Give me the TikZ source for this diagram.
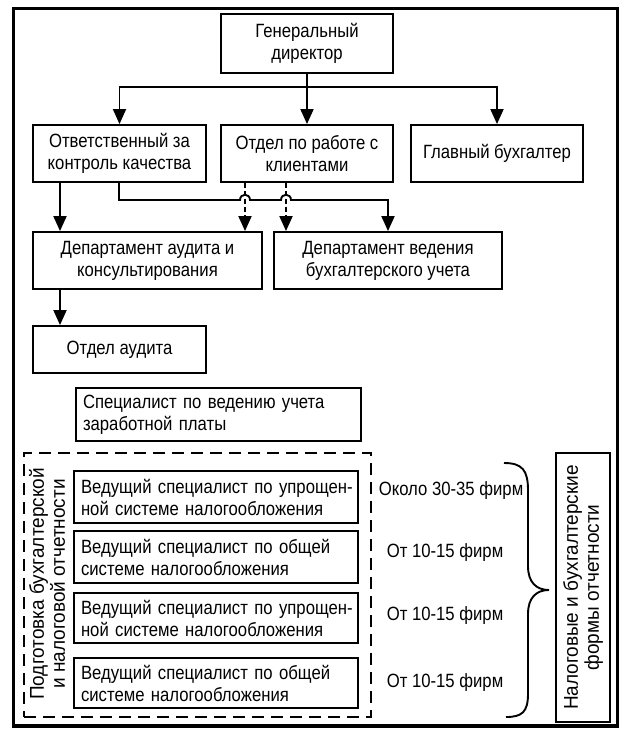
\documentclass[tikz,border=0pt]{standalone}
\usepackage{fontspec}
\setmainfont{Liberation Sans}[FakeStretch=0.87]
\newfontfamily\rotfamily{Liberation Sans}[FakeStretch=0.95]
\usetikzlibrary{arrows.meta}
\newcommand\bxfont{\fontsize{19.2}{22}\selectfont}
\newcommand\rtfont{\rotfamily\fontsize{20}{21}\selectfont}
\begin{document}
\begin{tikzpicture}[x=1pt,y=-1pt,
  box/.style={draw, line width=1.9pt, align=center, inner sep=0pt, font=\bxfont},
  lbox/.style={draw, line width=1.9pt, align=left, inner xsep=7pt, inner ysep=0pt, font=\bxfont},
  ln/.style={line width=1.9pt},
  arr/.style={line width=1.9pt, -{Triangle[width=13pt,length=15pt]}},
  darr/.style={line width=1.9pt, dash pattern=on 5pt off 3pt, -{Triangle[width=13pt,length=15pt]}},
  lbl/.style={font=\bxfont, inner sep=0pt},
  rot/.style={font=\rtfont, align=center, rotate=90, inner sep=0pt}]
\useasboundingbox (0,0) rectangle (622,729);
\fill[white] (0,0) rectangle (622,729);
\draw[line width=3.5pt] (13.5,8.5) rectangle (617.5,726);

% boxes
\node[box, minimum width=172, minimum height=59] (gd) at (307,43.5) {Генеральный\\директор};
\node[box, minimum width=173, minimum height=57] (otv) at (119.5,153.5) {Ответственный за\\контроль качества};
\node[box, minimum width=172, minimum height=57] (otd) at (307,153.5) {Отдел по работе с\\клиентами};
\node[box, minimum width=172, minimum height=57] (glav) at (497,153.5) {Главный бухгалтер};
\node[box, minimum width=229, minimum height=57] (dau) at (147.5,260.5) {Департамент аудита и\\консультирования};
\node[box, minimum width=228, minimum height=57] (dved) at (388,260.5) {Департамент ведения\\бухгалтерского учета};
\node[box, minimum width=173, minimum height=47] (oaud) at (119.5,349.5) {Отдел аудита};
\node[lbox, text width=271, minimum height=53] (spec) at (218.5,414.5) {\mbox{Специалист по ведению учета}\\\mbox{заработной платы}};

\node[draw, line width=1.9pt, dash pattern=on 12pt off 7pt, minimum width=347, minimum height=264] (grp) at (197.5,585) {};
\node[rot] (grpt) at (47,584) {Подготовка бухгалтерской\\и налоговой отчетности};

\node[lbox, text width=270, minimum height=52] (v1) at (216,497) {\mbox{Ведущий специалист по упрощен-}\\\mbox{ной системе налогообложения}};
\node[lbox, text width=270, minimum height=52] (v2) at (216,557) {\mbox{Ведущий специалист по общей}\\\mbox{системе налогообложения}};
\node[lbox, text width=270, minimum height=50] (v3) at (216,618) {\mbox{Ведущий специалист по упрощен-}\\\mbox{ной системе налогообложения}};
\node[lbox, text width=270, minimum height=50] (v4) at (216,683) {\mbox{Ведущий специалист по общей}\\\mbox{системе налогообложения}};

\node[lbl] (f1) at (451,491) {Около 30-35 фирм};
\node[lbl] (f2) at (445,553) {От 10-15 фирм};
\node[lbl] (f3) at (445,616) {От 10-15 фирм};
\node[lbl] (f4) at (445,683) {От 10-15 фирм};

\node[draw, line width=1.9pt, rot, minimum width=269, minimum height=54] (forms) at (583,587.5) {Налоговые и бухгалтерские\\формы отчетности};

% brace
\draw[ln] (504,463) .. controls (522,463) and (528,470) .. (528,490) -- (528,566)
  .. controls (528,582) and (536,590) .. (549,590)
  .. controls (536,590) and (528,598) .. (528,614) -- (528,694)
  .. controls (528,712) and (522,717) .. (506,717);

% connectors
\coordinate (hy) at (0,87);
\coordinate (xa) at (60,0);
\coordinate (xb) at (119,0);
\coordinate (xd1) at (245,0);
\coordinate (xd2) at (286,0);
\coordinate (h1a) at (240,200);
\coordinate (h1b) at (250,200);
\coordinate (h2a) at (281,200);
\coordinate (h2b) at (291,200);

\draw[arr] (gd.south) -- (gd.south |- hy) -| (otv.north);
\draw[arr] (gd.south) -- (otd.north);
\draw[arr] (gd.south |- hy) -| (glav.north);

\draw[arr] (otv.south -| xa) -- (dau.north -| xa);
\draw[arr] (dau.south -| xa) -- (oaud.north -| xa);

\draw[darr] (otd.south -| xd1) -- (dau.north -| xd1);
\draw[darr] (otd.south -| xd2) -- (dved.north -| xd2);

\draw[arr] (otv.south -| xb) |- (h1a) .. controls (240,193) and (250,193) .. (h1b) -- (h2a)
  .. controls (281,193) and (291,193) .. (h2b) -| (dved.north);
\end{tikzpicture}
\end{document}
